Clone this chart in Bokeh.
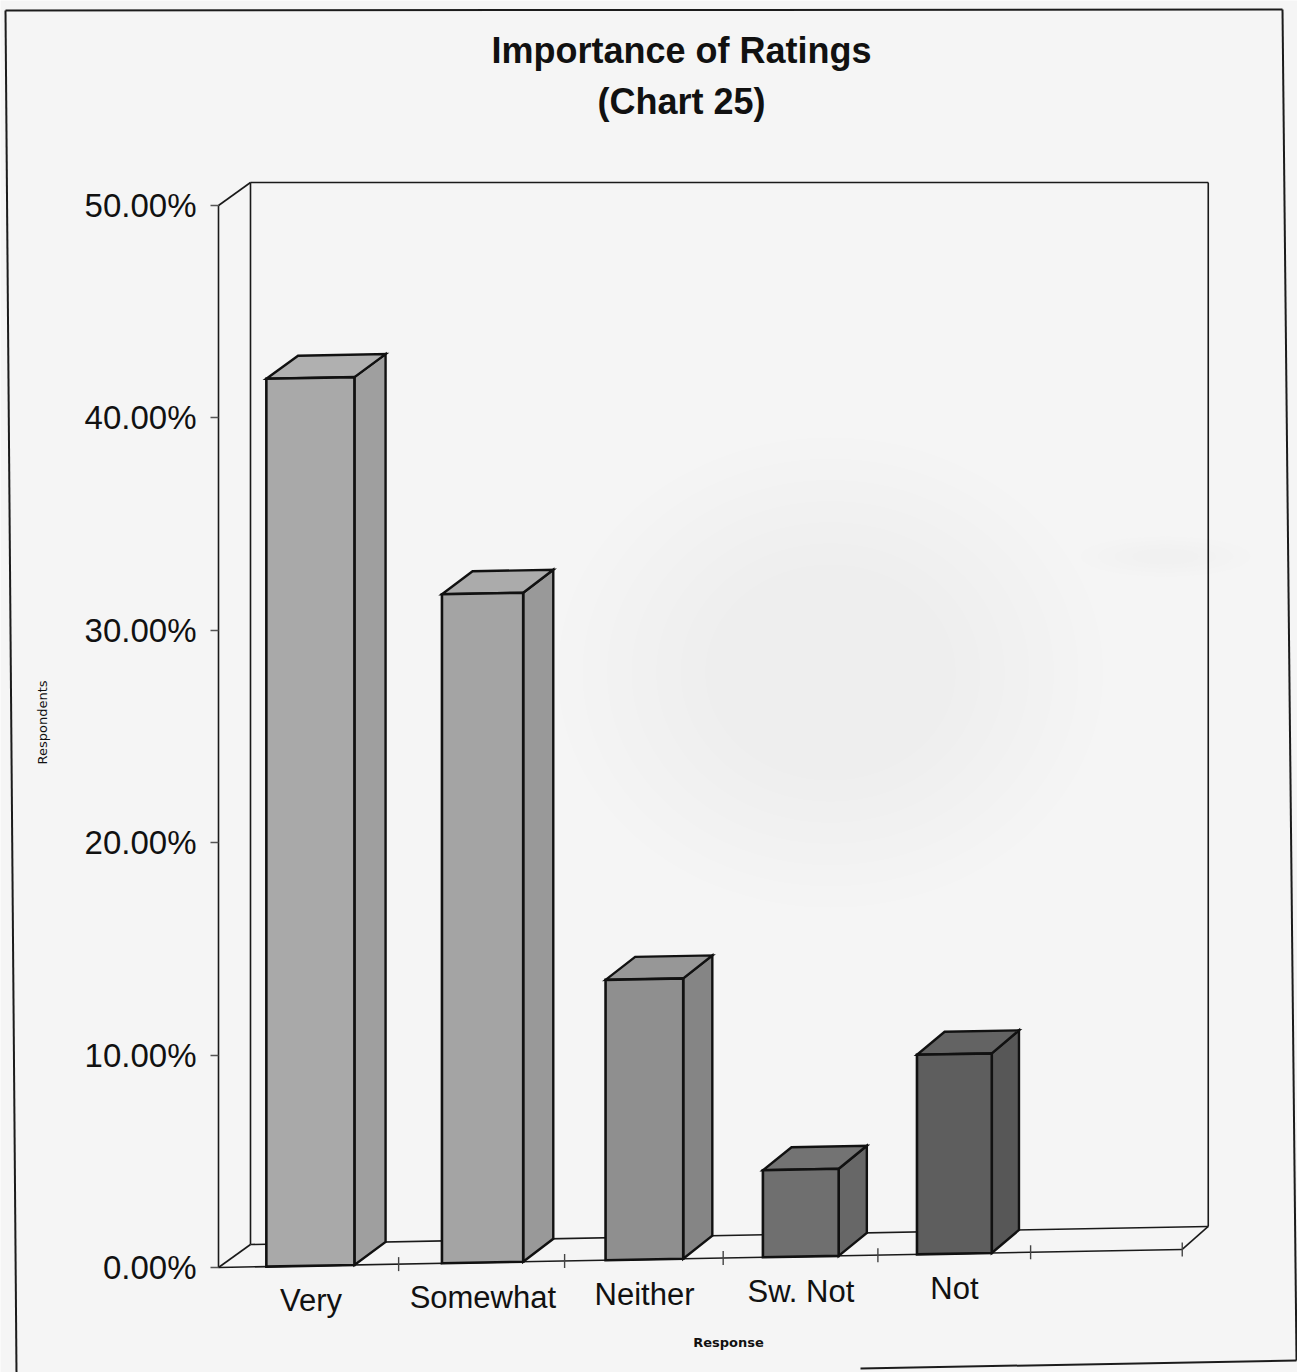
import numpy as np
from bokeh.plotting import figure
from bokeh.models import Range1d, FixedTicker, NumeralTickFormatter
from bokeh.core.properties import value
from bokeh.embed import file_html
from bokeh.resources import INLINE

# ---- data -------------------------------------------------------------
categories = ["Very", "Somewhat", "Neither", "Sw. Not", "Not"]
shares = [0.418, 0.315, 0.132, 0.041, 0.094]
y_ticks = [0.0, 0.1, 0.2, 0.3, 0.4, 0.5]
title_lines = ["Importance of Ratings", "(Chart 25)"]
x_title = "Response"
y_title = "Respondents"

# ---- styling ----------------------------------------------------------
front_colors = ["#a9a9a9", "#a4a4a4", "#8f8f8f", "#6f6f6f", "#5e5e5e"]
side_colors = ["#9f9f9f", "#999999", "#858585", "#676767", "#575757"]
top_colors = ["#b0b0b0", "#ababab", "#979797", "#737373", "#636363"]
BG = "#f5f5f5"
INK = "#1a1a1a"
FONT = "Liberation Sans"

# ---- canvas / projection helpers ---------------------------------------
W, H = 1297, 1372
X0 = 218.0             # left edge of the floor (and the value axis)
ZERO_ROW = 1267.0      # canvas row of the 0% line
PX_PER_UNIT = 2124.0   # vertical pixels for a share of 1.0
FLOOR_TILT = 18.0 / 960.0
DEPTH_DY = 23.0 / PX_PER_UNIT
N_SLOTS = len(categories) + 1


def row(r):
    """Canvas row -> value units."""
    return (ZERO_ROW - np.asarray(r, dtype=float)) / PX_PER_UNIT


def slot_x(u):
    """Foreshortened horizontal position of category coordinate u."""
    u = np.asarray(u, dtype=float)
    return X0 + 150.5 * u + 62.0 * (1.0 - np.exp(-0.65 * u))


def base(x):
    """Height of the tilted front floor edge at x."""
    return (np.asarray(x, dtype=float) - X0) * FLOOR_TILT / PX_PER_UNIT


def depth_dx(x):
    return 32.0 - 6.0 * (np.asarray(x, dtype=float) - X0) / 965.0


p = figure(
    width=W, height=H,
    x_range=Range1d(0, W), y_range=Range1d(float(row(H)), float(row(0))),
    x_axis_location=None, y_axis_location="left",
    output_backend="svg", toolbar_location=None,
    min_border=0, min_border_left=0, min_border_right=0,
    min_border_top=0, min_border_bottom=0,
    background_fill_color=BG, border_fill_color=BG,
    outline_line_color=None,
)
p.grid.visible = False

# page frame around the whole sheet
p.multi_line(
    xs=[[5, 16], [5, 1282], [1282, 1296], [860, 1296]],
    ys=[list(row([10, 1372])), list(row([10, 9])), list(row([9, 1360])),
        list(row([1368, 1360]))],
    line_color="#1c1c1c", line_width=2,
)

# faint scanner haze in the middle of the wall
for k in range(7):
    s = 1.0 - 0.09 * k
    p.ellipse(x=[830], y=[float(row(672))], width=[545 * s],
              height=[470 * s / PX_PER_UNIT],
              fill_color="#8c8c8c", fill_alpha=0.009, line_color=None)
for k in range(4):
    s = 1.0 - 0.2 * k
    p.ellipse(x=[1165], y=[float(row(556))], width=[170 * s],
              height=[40 * s / PX_PER_UNIT],
              fill_color="#8c8c8c", fill_alpha=0.01, line_color=None)

# ---- walls and floor --------------------------------------------------
x_end = float(slot_x(N_SLOTS))
b_end = float(base(x_end))
dx0 = float(depth_dx(X0))
dxe = float(depth_dx(x_end))
wall_top = y_ticks[-1] + DEPTH_DY

wall_xs = [
    [X0, X0 + dx0],                       # side wall top edge
    [X0 + dx0, x_end + dxe],              # back wall top edge
    [X0 + dx0, X0 + dx0],                 # back wall left edge
    [x_end + dxe, x_end + dxe],           # back wall right edge
    [X0 + dx0, x_end + dxe],              # floor back edge
    [X0, x_end],                          # floor front edge
    [X0, X0 + dx0],                       # floor left edge
    [x_end, x_end + dxe],                 # floor right edge
]
wall_ys = [
    [y_ticks[-1], wall_top],
    [wall_top, wall_top],
    [DEPTH_DY, wall_top],
    [b_end + DEPTH_DY, wall_top],
    [DEPTH_DY, b_end + DEPTH_DY],
    [0.0, b_end],
    [0.0, DEPTH_DY],
    [b_end, b_end + DEPTH_DY],
]
p.multi_line(xs=wall_xs, ys=wall_ys, line_color=INK, line_width=1.6)

# category separators on the front floor edge
tick_u = np.arange(1, N_SLOTS + 1)
tick_x = slot_x(tick_u)
tick_b = base(tick_x)
p.multi_line(
    xs=[[x, x] for x in tick_x],
    ys=[[b - 7 / PX_PER_UNIT, b + 7 / PX_PER_UNIT] for b in tick_b],
    line_color="#444444", line_width=1.4,
)

# ---- 3-D columns ------------------------------------------------------
idx = np.arange(len(categories))
v = np.asarray(shares)
xl = slot_x(idx + 0.255)
xr = slot_x(idx + 0.745)
bl = base(xl)
br = base(xr)
tl = bl + v
tr = br + v
dl = depth_dx(xl)
dr = depth_dx(xr)
D = DEPTH_DY

front_xs = [[xl[i], xr[i], xr[i], xl[i]] for i in idx]
front_ys = [[bl[i], br[i], tr[i], tl[i]] for i in idx]
side_xs = [[xr[i], xr[i] + dr[i], xr[i] + dr[i], xr[i]] for i in idx]
side_ys = [[br[i], br[i] + D, tr[i] + D, tr[i]] for i in idx]
top_xs = [[xl[i], xr[i], xr[i] + dr[i], xl[i] + dl[i]] for i in idx]
top_ys = [[tl[i], tr[i], tr[i] + D, tl[i] + D] for i in idx]

p.patches(xs=side_xs, ys=side_ys, fill_color=side_colors, line_color="#111111",
          line_width=2.4, line_join="miter")
p.patches(xs=top_xs, ys=top_ys, fill_color=top_colors, line_color="#111111",
          line_width=2.4, line_join="miter")
p.patches(xs=front_xs, ys=front_ys, fill_color=front_colors, line_color="#111111",
          line_width=2.6, line_join="miter")

# ---- texts ------------------------------------------------------------
lab_x = slot_x(idx + 0.5)
lab_y = base(lab_x) - 35 / PX_PER_UNIT
p.text(x=lab_x, y=lab_y, text=categories, text_font=value(FONT),
       text_font_size="31px", text_align="center", text_baseline="middle",
       text_color="#111111")

p.text(x=[681, 681], y=list(row([50, 101])), text=title_lines,
       text_font=value(FONT), text_font_size="36px", text_font_style="bold",
       text_align="center", text_baseline="middle", text_color="#111111")

p.text(x=[728], y=[float(row(1342))], text=[x_title], text_font=value("DejaVu Sans"),
       text_font_size="13px", text_font_style="bold", text_align="center",
       text_baseline="middle", text_color="#111111")

p.text(x=[42], y=[float(row(722))], text=[y_title], angle=np.pi / 2,
       text_font=value("DejaVu Sans"), text_font_size="13px",
       text_align="center", text_baseline="middle", text_color="#111111")

# ---- value axis (pinned at the left edge of the floor) -----------------
ax = p.yaxis[0]
ax.fixed_location = X0
ax.bounds = (y_ticks[0], y_ticks[-1])
ax.ticker = FixedTicker(ticks=y_ticks)
ax.formatter = NumeralTickFormatter(format="0.00%")
ax.axis_line_color = INK
ax.axis_line_width = 1.6
ax.major_tick_line_color = "#555555"
ax.major_tick_line_width = 1.4
ax.major_tick_out = 8
ax.major_tick_in = 0
ax.minor_tick_line_color = None
ax.major_label_standoff = 14
ax.major_label_text_font = FONT
ax.major_label_text_font_size = "33px"
ax.major_label_text_color = "#111111"

open("out.html", "w").write(file_html(p, INLINE))
